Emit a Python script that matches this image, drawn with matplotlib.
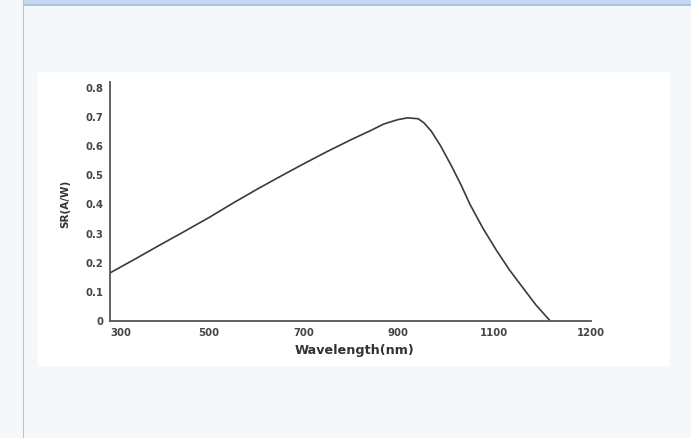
import numpy as np
from matplotlib import pyplot as plt
from matplotlib.patches import Rectangle

# spectral response
wavelength = [300, 350, 400, 450, 500, 550, 600, 650, 700, 750, 800, 840, 870, 900,
              920, 942, 954, 969, 988, 1012, 1031, 1050, 1077, 1103, 1116, 1130,
              1143, 1158]
sr = [0.165, 0.212, 0.260, 0.307, 0.355, 0.404, 0.451, 0.496, 0.540, 0.582, 0.622,
      0.652, 0.676, 0.691, 0.697, 0.694, 0.680, 0.652, 0.603, 0.530, 0.468, 0.400,
      0.318, 0.240, 0.175, 0.113, 0.056, 0.0]

x_ticks = [300, 500, 700, 900, 1100, 1200]
y_ticks = [0, 0.1, 0.2, 0.3, 0.4, 0.5, 0.6, 0.7, 0.8]
y_labels = ['0', '0.1', '0.2', '0.3', '0.4', '0.5', '0.6', '0.7', '0.8']

# the original axis has evenly spread labels, not a linear scale
x_pos = [0, 99, 194, 288, 384, 481]

W, H = 691, 438
bg = '#f4f8fb'
frame = '#a9c4e7'
ink = '#3a3a3a'


def fwd(x):
    x = np.asarray(x, dtype=float)
    y = np.interp(x, x_ticks, x_pos)
    y = np.where(x < x_ticks[0], x_pos[0] + (x - x_ticks[0]) * 99 / 200, y)
    y = np.where(x > x_ticks[-1], x_pos[-1] + (x - x_ticks[-1]), y)
    return y


def inv(p):
    p = np.asarray(p, dtype=float)
    y = np.interp(p, x_pos, x_ticks)
    y = np.where(p < x_pos[0], x_ticks[0] + (p - x_pos[0]) * 200 / 99, y)
    y = np.where(p > x_pos[-1], x_ticks[-1] + (p - x_pos[-1]), y)
    return y


def px(x0, y0, w, h):
    # pixel box (top-left origin) -> figure fraction
    return (x0 / W, 1 - (y0 + h) / H), w / W, h / H


fig = plt.figure(figsize=(W / 100, H / 100), dpi=100, facecolor=bg)

# page frame around the chart
for (x0, y0, w, h), col in [((23, 0, W - 23, 4.5), '#c6d9f1'),
                            ((23, 4, W - 23, 2), frame),
                            ((22.5, 0, 1.5, H), frame),
                            ((38, 72, 632, 294), 'white')]:
    xy, ww, hh = px(x0, y0, w, h)
    fig.add_artist(Rectangle(xy, ww, hh, transform=fig.transFigure,
                             facecolor=col, edgecolor='none', zorder=0))

ax = fig.add_axes([110 / W, 1 - 321 / H, 481 / W, 239 / H])
ax.set_facecolor('none')
ax.set_xscale('function', functions=(fwd, inv))
ax.plot(wavelength, sr, color=ink, lw=1.2, solid_capstyle='round',
        solid_joinstyle='round')

ax.set_xlim(300, 1200)
ax.set_ylim(0, 0.82)
ax.set_xticks(x_ticks)
ax.set_xticklabels([str(t) for t in x_ticks])
ax.set_yticks(y_ticks)
ax.set_yticklabels(y_labels)
ax.minorticks_off()

for s in ['top', 'right']:
    ax.spines[s].set_visible(False)
for s in ['left', 'bottom']:
    ax.spines[s].set_color('#555555')
    ax.spines[s].set_linewidth(1.3)

ax.tick_params(axis='both', length=0, labelsize=7.3, labelcolor='#444444')
ax.tick_params(axis='x', pad=5)
ax.tick_params(axis='y', pad=5)
for lab in ax.get_xticklabels() + ax.get_yticklabels():
    lab.set_fontweight('bold')
ax.get_xticklabels()[0].set_horizontalalignment('left')

ax.set_xlabel('Wavelength(nm)', fontsize=9.2, fontweight='bold', color='#333333')
ax.set_ylabel('SR(A/W)', fontsize=7.5, fontweight='bold', color='#333333')
ax.xaxis.set_label_coords(0.509, -0.095)
ax.yaxis.set_label_coords(-0.083, 0.49)

plt.savefig('out.png', dpi=100, facecolor=bg)
